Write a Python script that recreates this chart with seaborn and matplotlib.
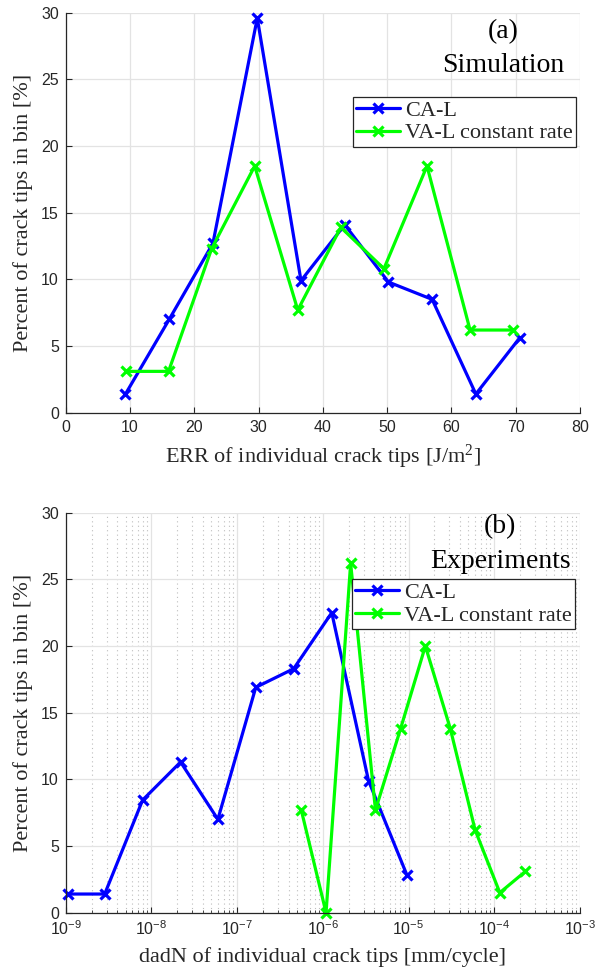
import matplotlib
matplotlib.use("Agg")
import matplotlib.pyplot as plt
import seaborn as sns
import numpy as np
from matplotlib.ticker import LogLocator, NullFormatter

# ---- data ----
err_ca = [9.3, 16.1, 22.9, 29.8, 36.6, 43.4, 50.2, 57.0, 63.8, 70.6]
pct_ca_sim = [1.4, 7.0, 12.7, 29.6, 9.9, 14.1, 9.8, 8.5, 1.4, 5.6]
err_va = [9.4, 16.0, 22.7, 29.4, 36.1, 42.8, 49.5, 56.2, 62.9, 69.6]
pct_va_sim = [3.1, 3.1, 12.3, 18.5, 7.7, 13.9, 10.8, 18.5, 6.2, 6.2]

dadn_ca = [1.05e-9, 2.85e-9, 7.9e-9, 2.19e-8, 5.96e-8, 1.65e-7, 4.57e-7, 1.27e-6, 3.41e-6, 9.6e-6]
pct_ca_exp = [1.4, 1.4, 8.45, 11.3, 7.0, 16.9, 18.3, 22.5, 9.9, 2.8]
dadn_va = [5.6e-7, 1.09e-6, 2.11e-6, 4.11e-6, 8.07e-6, 1.57e-5, 3.07e-5, 5.98e-5, 1.16e-4, 2.31e-4]
pct_va_exp = [7.7, 0.0, 26.2, 7.7, 13.8, 20.0, 13.8, 6.2, 1.5, 3.1]

series_labels = ["CA-L", "VA-L constant rate"]
panel_tags = ["(a)", "(b)"]
panel_titles = ["Simulation", "Experiments"]
xlabels = ["ERR of individual crack tips [J/m$^2$]", "dadN of individual crack tips [mm/cycle]"]
ylabel = "Percent of crack tips in bin [%]"
yticks = [0, 5, 10, 15, 20, 25, 30]
xticks_top = [0, 10, 20, 30, 40, 50, 60, 70, 80]

sns.set_style("ticks")
SERIF = ["Liberation Serif", "DejaVu Serif"]
SANS = ["Liberation Sans", "DejaVu Sans"]
plt.rcParams["font.family"] = SANS
plt.rcParams["mathtext.fontset"] = "custom"
plt.rcParams["mathtext.rm"] = "Liberation Serif"
plt.rcParams["mathtext.it"] = "Liberation Serif:italic"

W, H = 602, 975
fig = plt.figure(figsize=(W / 100, H / 100), dpi=100)

def frac_axes(x0, y0, x1, y1):
    return fig.add_axes([x0 / W, 1 - y1 / H, (x1 - x0) / W, (y1 - y0) / H])

ax1 = frac_axes(65.7, 12.7, 580, 412.7)
ax2 = frac_axes(65.7, 512.7, 580, 912.7)

DARK = "#262626"
BLUE = "#0000ff"
GREEN = "#00ff00"
line_kw = dict(marker="x", markersize=6.5, markeredgewidth=2.3, linewidth=2.3, clip_on=False)

for ax, (xa, ya, xb, yb) in zip(
    [ax1, ax2],
    [(err_ca, pct_ca_sim, err_va, pct_va_sim), (dadn_ca, pct_ca_exp, dadn_va, pct_va_exp)],
):
    sns.lineplot(x=xa, y=ya, ax=ax, color=BLUE, label=series_labels[0], sort=False,
                 estimator=None, markeredgecolor=BLUE, **line_kw)
    sns.lineplot(x=xb, y=yb, ax=ax, color=GREEN, label=series_labels[1], sort=False,
                 estimator=None, markeredgecolor=GREEN, **line_kw)

ax1.set_xlim(0, 80)
ax1.set_xticks(xticks_top)
ax2.set_xscale("log")
ax2.set_xlim(1e-9, 1e-3)
ax2.xaxis.set_major_locator(LogLocator(base=10, numticks=20))
ax2.xaxis.set_minor_locator(LogLocator(base=10, subs=np.arange(2, 10), numticks=100))
ax2.xaxis.set_minor_formatter(NullFormatter())

for i, ax in enumerate([ax1, ax2]):
    ax.set_ylim(0, 30)
    ax.set_yticks(yticks)
    ax.set_axisbelow(True)
    ax.grid(True, which="major", color="#e3e3e3", linewidth=0.9, linestyle="-")
    for s in ["top", "right"]:
        ax.spines[s].set_visible(False)
    for s in ["left", "bottom"]:
        ax.spines[s].set_color(DARK)
        ax.spines[s].set_linewidth(0.9)
    ax.tick_params(axis="both", which="major", direction="in", length=4.5, width=0.8,
                   colors=DARK, labelsize=11.5, pad=5)
    ax.tick_params(axis="both", which="minor", direction="in", length=2.5, width=0.6, colors=DARK)
    for lab in ax.get_xticklabels() + ax.get_yticklabels():
        lab.set_family(SANS)
    ax.set_xlabel(xlabels[i], fontsize=16, family=SERIF, color=DARK, labelpad=6)
    ax.set_ylabel(ylabel, fontsize=16, family=SERIF, color=DARK, labelpad=6)

ax2.grid(True, which="minor", axis="x", color="#bdbdbd", linewidth=0.8, linestyle=(0, (1, 3)))

# legends
leg_pos = [(576, 96.7), (575, 579.3)]
for ax, (lx, ly) in zip([ax1, ax2], leg_pos):
    leg = ax.legend(loc="upper right", bbox_to_anchor=(lx / W, 1 - ly / H),
                    bbox_transform=fig.transFigure, frameon=True, fancybox=False,
                    prop={"family": SERIF, "size": 16}, handlelength=2.0,
                    handletextpad=0.2, borderpad=0.15, labelspacing=0.1,
                    borderaxespad=0, framealpha=1)
    leg.get_frame().set_edgecolor(DARK)
    leg.get_frame().set_linewidth(0.9)

# panel texts
tag_pos = [((502.7, 31.7), (502.8, 65)), ((500, 526.7), (500.5, 561.7))]
for i, ((tx, ty), (sx, sy)) in enumerate(tag_pos):
    fig.text(tx / W, 1 - ty / H, panel_tags[i], ha="center", va="center",
             fontsize=20, family=SERIF, color="black")
    fig.text(sx / W, 1 - sy / H, panel_titles[i], ha="center", va="center",
             fontsize=20, family=SERIF, color="black")

fig.savefig("out.png", dpi=100)
